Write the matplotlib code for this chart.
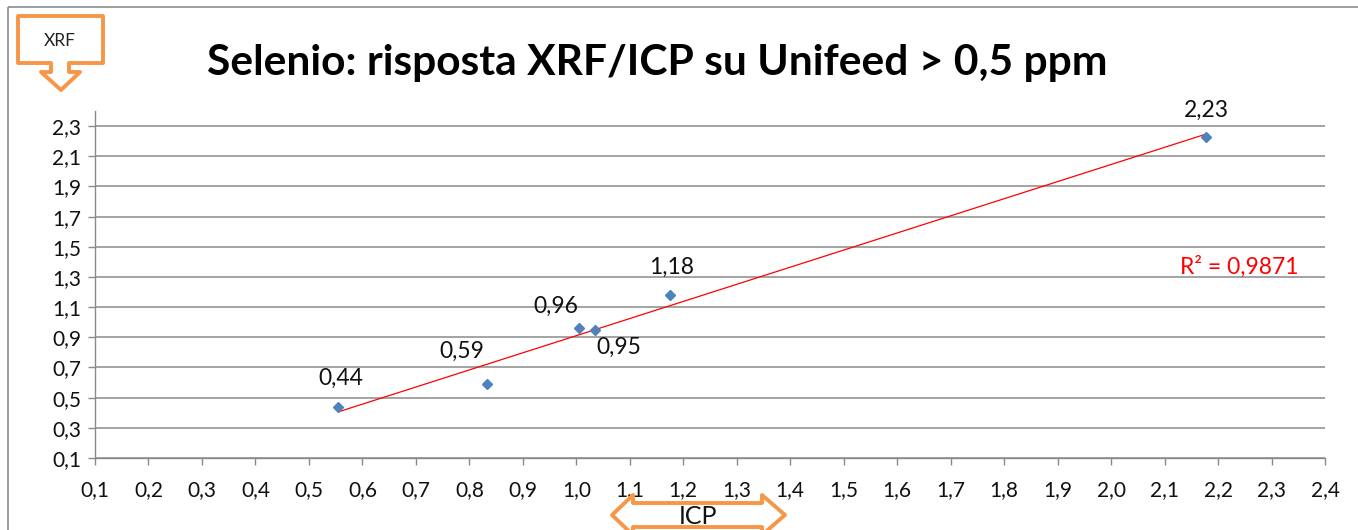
import numpy as np
import matplotlib
matplotlib.use("Agg")
import matplotlib.pyplot as plt
from matplotlib.patches import Polygon, Rectangle
from matplotlib.ticker import FuncFormatter

# --- data --------------------------------------------------------------------
icp = [0.555, 0.833, 1.005, 1.035, 1.175, 2.177]      # x: ICP
xrf = [0.44, 0.59, 0.96, 0.95, 1.18, 2.23]            # y: XRF
# label offsets (pixels) for each data label, as in the original
label_dx = [2, -25, -23, 24, 2, 1]
label_dy = [28, 33, 22, -18, 28, 26]
r2_text = "R² = 0,9871"
title = "Selenio: risposta XRF/ICP su Unifeed > 0,5 ppm"

x_ticks = np.round(np.arange(0.1, 2.41, 0.1), 1)
y_ticks = np.round(np.arange(0.1, 2.31, 0.2), 1)

ORANGE = "#F79646"
GRID = "#8a8a8a"
BLUE = "#4F81BD"

plt.rcParams["font.family"] = ["Lato", "DejaVu Sans"]

W, H = 1358, 530
fig = plt.figure(figsize=(W / 100, H / 100), dpi=100)
fig.patch.set_facecolor("white")

# main plot area (pixel box: x 95..1325, y 111..458)
ax = fig.add_axes([95 / W, 1 - 458 / H, (1325 - 95) / W, (458 - 111) / H])
ax.set_xlim(0.1, 2.4)
ax.set_ylim(0.1, 2.4)
ax.set_xticks(x_ticks)
ax.set_yticks(y_ticks)
comma = FuncFormatter(lambda v, _: f"{v:.1f}".replace(".", ","))
ax.xaxis.set_major_formatter(comma)
ax.yaxis.set_major_formatter(comma)
ax.tick_params(axis="both", direction="out", length=5, width=1, color=GRID,
               labelsize=15, labelcolor="#111111")
ax.tick_params(axis="x", pad=11)
ax.tick_params(axis="y", pad=5)
for s in ("top", "right"):
    ax.spines[s].set_visible(False)
for s in ("left", "bottom"):
    ax.spines[s].set_color(GRID)
    ax.spines[s].set_linewidth(1)
ax.grid(axis="y", color=GRID, lw=1.1)
ax.set_axisbelow(True)

# points
ax.plot(icp, xrf, ls="none", marker="D", ms=5, color=BLUE, zorder=3)

# linear trendline
slope, intercept = np.polyfit(icp, xrf, 1)
xs = np.array([min(icp), max(icp)])
ax.plot(xs, slope * xs + intercept, color="#FF0000", lw=0.9, zorder=2)

for x, y, dx, dy in zip(icp, xrf, label_dx, label_dy):
    ax.annotate(f"{y:.2f}".replace(".", ","), (x, y), xytext=(dx, dy),
                textcoords="offset pixels", ha="center", va="center",
                fontsize=16.5, color="#111111")

ax.text(2.128, 1.37, r2_text, color="#FF0000", fontsize=16.5,
        ha="left", va="center")

# overlay in pixel coordinates for title, border and callout shapes
ov = fig.add_axes([0, 0, 1, 1])
ov.set_xlim(0, W)
ov.set_ylim(H, 0)
ov.axis("off")

ov.add_patch(Rectangle((8, 7), W + 20, H + 20, fill=False, ec="#8c8c8c", lw=1.2))
ov.text(657, 63, title, ha="center", va="center", fontsize=30.6,
        fontweight="bold", color="black")

# XRF down-arrow callout
xrf_box = [(18, 16), (103, 16), (103, 63), (69, 63), (69, 72), (80, 72),
           (61, 90), (41, 72), (51, 72), (51, 63), (18, 63)]
ov.add_patch(Polygon(xrf_box, closed=True, fc="white", ec=ORANGE, lw=2.8,
                     joinstyle="round"))
ov.text(60, 41, "XRF", ha="center", va="center", fontsize=12.5, color="#222222")

# ICP left-right arrow
icp_arrow = [(612, 515), (633, 495), (633, 503), (762, 503), (762, 495),
             (785, 515), (762, 535), (762, 527), (633, 527), (633, 535)]
ov.add_patch(Polygon(icp_arrow, closed=True, fc="white", ec=ORANGE, lw=2.8,
                     joinstyle="round"))
ov.text(698, 517, "ICP", ha="center", va="center", fontsize=18, color="#111111")

fig.savefig("out.png", dpi=100)
